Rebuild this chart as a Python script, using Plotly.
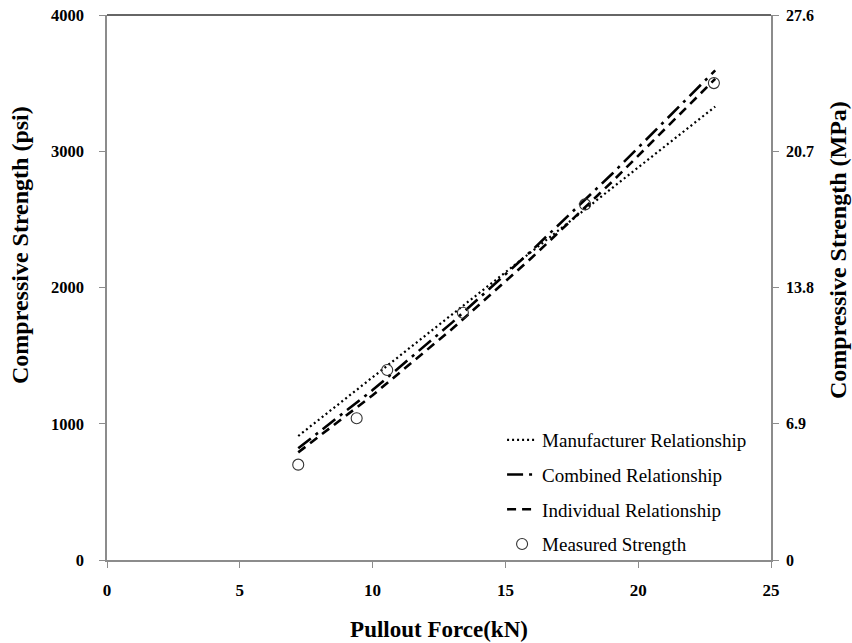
import plotly.graph_objects as go

# Measured pullout tests
force_measured = [7.2, 9.4, 10.55, 13.4, 18.0, 22.85]
strength_measured = [700, 1040, 1395, 1815, 2610, 3500]

# Fitted relationships (psi) at selected pullout forces (kN)
force_fit = [7.2, 10.0, 13.0, 16.0, 19.0, 22.9]
manufacturer_psi = [910, 1341, 1803, 2265, 2727, 3328]
combined_psi = [820, 1247, 1744, 2273, 2831, 3594]
individual_psi = [790, 1209, 1697, 2220, 2773, 3531]

x_ticks = [0, 5, 10, 15, 20, 25]
psi_ticks = [0, 1000, 2000, 3000, 4000]
mpa_ticks = [0, 6.9, 13.8, 20.7, 27.6]
mpa_labels = ["0", "6.9", "13.8", "20.7", "27.6"]

serif = "Liberation Serif, Times New Roman, serif"
axis_grey = "#8c8c8c"
bold = dict(family=serif, color="black", weight="bold")

fig = go.Figure()

fig.add_trace(go.Scatter(
    x=force_fit, y=manufacturer_psi, mode="lines",
    name="Manufacturer Relationship", legendgroup="a",
    line=dict(color="black", width=2.2, dash="2px,3px"),
))
fig.add_trace(go.Scatter(
    x=force_fit, y=combined_psi, mode="lines",
    name="Combined Relationship", legendgroup="b",
    line=dict(color="black", width=2.6, dash="16px,6px,3px,6px"),
))
fig.add_trace(go.Scatter(
    x=force_fit, y=individual_psi, mode="lines",
    name="Individual Relationship", legendgroup="c",
    line=dict(color="black", width=2.6, dash="9px,6px"),
))
fig.add_trace(go.Scatter(
    x=force_measured, y=strength_measured, mode="markers",
    name="Measured Strength", legendgroup="d",
    marker=dict(symbol="circle-open", size=11, color="#333333",
                line=dict(width=1.1, color="#333333")),
))

fig.update_layout(
    width=852, height=643,
    margin=dict(l=107, r=81, t=15, b=83, autoexpand=False),
    paper_bgcolor="white", plot_bgcolor="white",
    font=dict(family=serif, color="black"),
    showlegend=True,
    legend=dict(
        x=0.595, y=0.255, xanchor="left", yanchor="top",
        bgcolor="rgba(0,0,0,0)",
        font=dict(family=serif, size=19, color="black"),
        traceorder="grouped", tracegroupgap=7,
        itemwidth=30,
    ),
    xaxis=dict(
        range=[0, 25], tickvals=x_ticks, showgrid=False, zeroline=False,
        showline=True, linecolor=axis_grey, linewidth=1.5,
        ticks="outside", ticklen=6, tickcolor=axis_grey,
        tickfont=dict(bold, size=17),
        ticklabelstandoff=8, automargin=False,
        title=dict(text="Pullout Force(kN)", standoff=22,
                   font=dict(bold, size=23)),
    ),
    yaxis=dict(
        range=[0, 4000], tickvals=psi_ticks, showgrid=False, zeroline=False,
        showline=True, linecolor=axis_grey, linewidth=1.5,
        ticks="outside", ticklen=6, tickcolor=axis_grey,
        tickfont=dict(bold, size=16.5),
        ticklabelstandoff=12, automargin=False,
    ),
    yaxis2=dict(
        overlaying="y", side="right", anchor="x",
        range=[0, 27.61], tickvals=mpa_ticks, ticktext=mpa_labels,
        showgrid=False, zeroline=False,
        showline=True, linecolor=axis_grey, linewidth=1.5,
        ticks="outside", ticklen=6, tickcolor=axis_grey,
        tickfont=dict(bold, size=16),
        ticklabelstandoff=4, automargin=False,
    ),
    shapes=[dict(type="line", xref="paper", yref="paper", x0=0, x1=1, y0=1, y1=1,
                 line=dict(color="#333333", width=1.5))],
    annotations=[
        dict(text="Compressive Strength (psi)", textangle=-90, showarrow=False,
             xref="paper", yref="paper", x=-0.131, y=0.578,
             xanchor="center", yanchor="middle", font=dict(bold, size=24)),
        dict(text="Compressive Strength (MPa)", textangle=-90, showarrow=False,
             xref="paper", yref="paper", x=1.101, y=0.569,
             xanchor="center", yanchor="middle", font=dict(bold, size=24)),
    ],
)

# keep the MPa axis drawn even though no trace is bound to it
fig.add_trace(go.Scatter(x=[None], y=[None], yaxis="y2", showlegend=False, hoverinfo="skip"))

fig.write_html("out.html")
